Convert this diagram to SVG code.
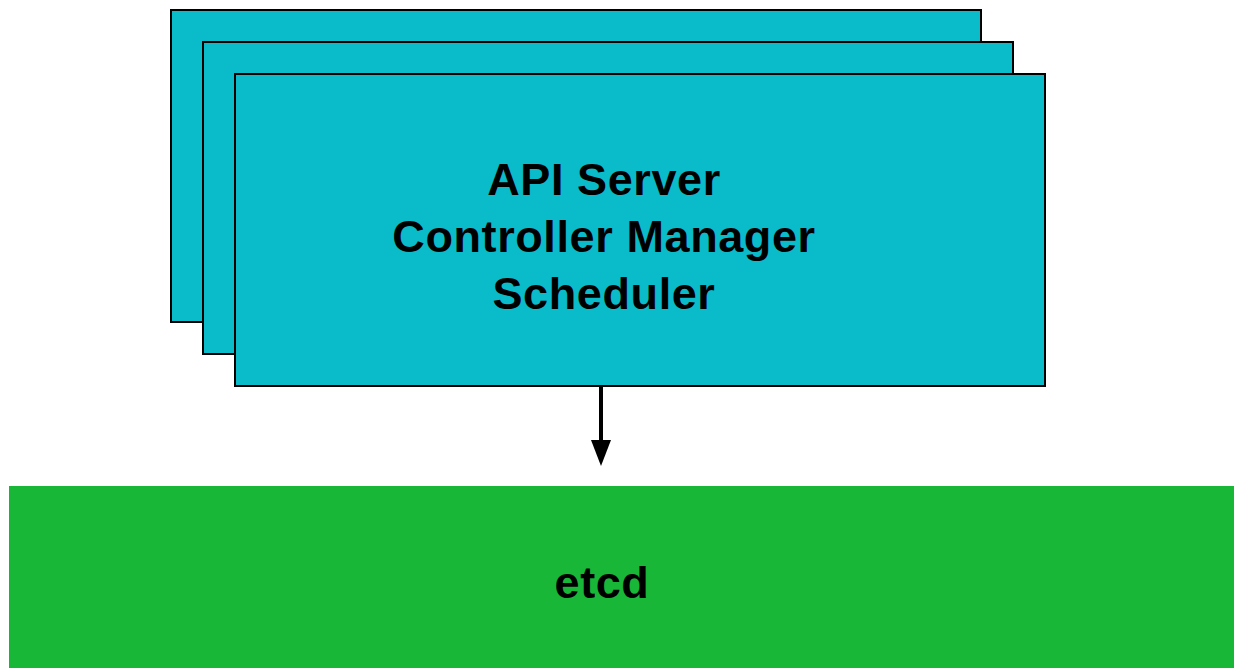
<svg xmlns="http://www.w3.org/2000/svg" width="1234" height="668" viewBox="0 0 1234 668">
  <defs>
    <style>
      .ctrl { fill: #0ABBCA; stroke: #000; stroke-width: 2; }
      .store { fill: #19B737; }
      .label { font-family: "Liberation Sans", Arial, sans-serif; font-weight: bold; font-size: 45px; letter-spacing: 0.6px; fill: #000; text-anchor: middle; }
      .link { stroke: #000; stroke-width: 4; fill: none; }
    </style>
  </defs>
  <rect width="1234" height="668" fill="#fff"/>

  <!-- stacked control-plane instances -->
  <g id="control-plane-3">
    <rect class="ctrl" x="171" y="10" width="810" height="312"/>
  </g>
  <g id="control-plane-2">
    <rect class="ctrl" x="203" y="42" width="810" height="312"/>
  </g>
  <g id="control-plane-1">
    <rect class="ctrl" x="235" y="74" width="810" height="312"/>
    <text class="label" x="604" y="195">API Server</text>
    <text class="label" x="604" y="252">Controller Manager</text>
    <text class="label" x="604" y="309">Scheduler</text>
  </g>

  <!-- key-value store -->
  <g id="etcd">
    <rect class="store" x="9" y="486" width="1225" height="182"/>
    <text class="label" x="602" y="598">etcd</text>
  </g>

  <g id="connectors">
    <line class="link" x1="601" y1="387" x2="601" y2="442"/>
    <path d="M591,440 L611,440 L601,466 Z" fill="#000"/>
  </g>
</svg>
